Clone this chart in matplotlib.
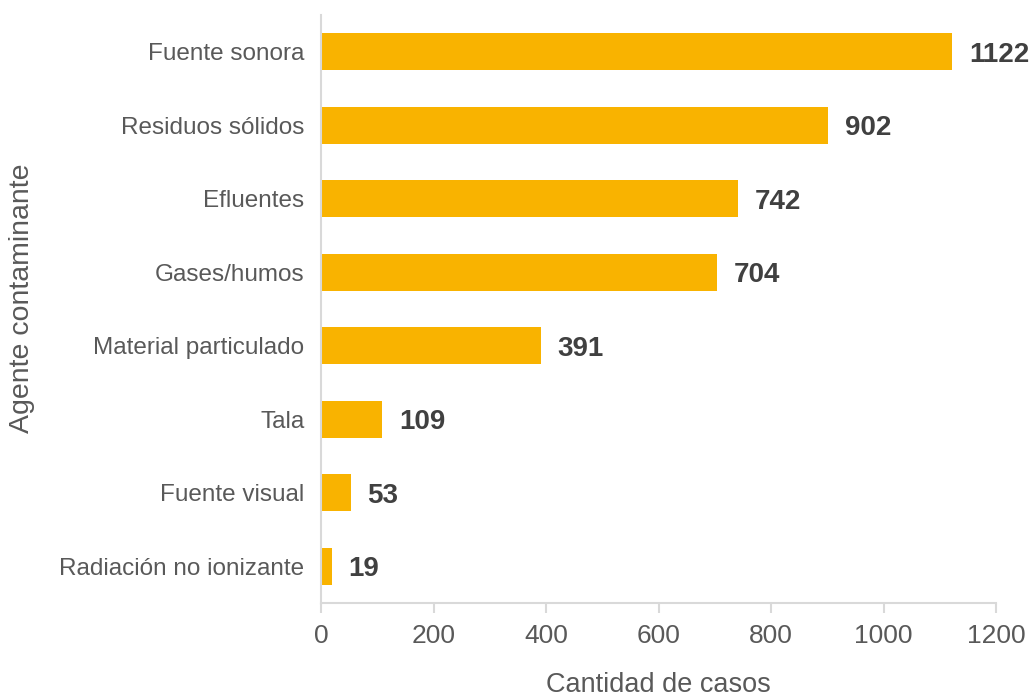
import matplotlib.pyplot as plt

categorias = ["Fuente sonora", "Residuos sólidos", "Efluentes", "Gases/humos",
              "Material particulado", "Tala", "Fuente visual", "Radiación no ionizante"]
casos = [1122, 902, 742, 704, 391, 109, 53, 19]
xticks = [0, 200, 400, 600, 800, 1000, 1200]

plt.rcParams['font.family'] = ['Liberation Sans', 'DejaVu Sans']

fig = plt.figure(figsize=(10.31, 6.97), dpi=100)
ax = fig.add_axes([321 / 1031, 1 - 603 / 697, 675 / 1031, 588 / 697])

pos = list(range(len(categorias)))
ax.barh(pos, casos, height=0.5, color="#F9B300")
for p, v in zip(pos, casos):
	ax.annotate(str(v), (v, p), xytext=(12, 0), textcoords="offset points",
				va="center_baseline", ha="left", fontsize=20, fontweight="bold", color="#404040")

ax.set_ylim(len(categorias) - 0.5, -0.5)
ax.set_xlim(0, 1200)
ax.set_yticks(pos)
ax.set_yticklabels(categorias)
ax.set_xticks(xticks)

for s in ["top", "right"]:
	ax.spines[s].set_visible(False)
for s in ["left", "bottom"]:
	ax.spines[s].set_color("#D9D9D9")
	ax.spines[s].set_linewidth(1.5)

ax.tick_params(axis="y", length=0, labelsize=17.5, labelcolor="#595959", pad=12)
ax.tick_params(axis="x", length=7, width=1.5, color="#D9D9D9", labelsize=19,
			   labelcolor="#595959", pad=8)

ax.set_xlabel("Cantidad de casos", fontsize=19.5, color="#595959")
ax.set_ylabel("Agente contaminante", fontsize=20.5, color="#595959")
ax.xaxis.set_label_coords(337 / 675, -(685 - 603) / 588)
ax.yaxis.set_label_coords(-(321 - 22) / 675, (603 - 298) / 588)
ax.xaxis.label.set_va("center")
ax.yaxis.label.set_va("center")

fig.savefig("out.png", dpi=100)
